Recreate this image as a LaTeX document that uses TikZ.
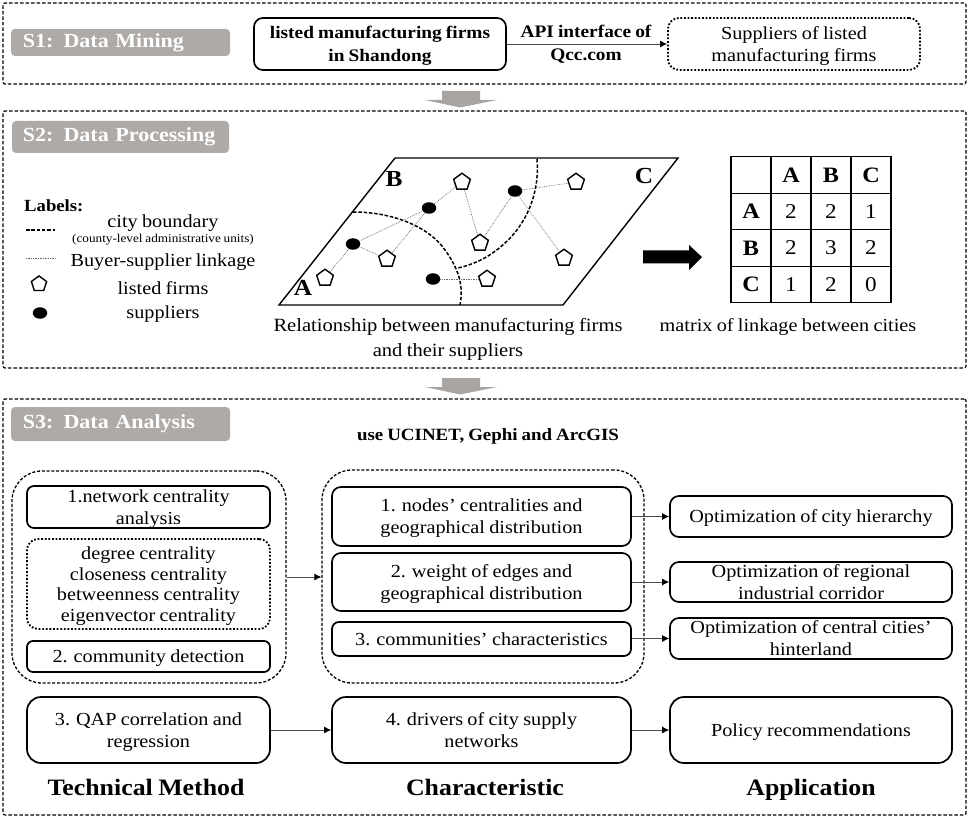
\documentclass[tikz,border=0pt]{standalone}
\usepackage{fontspec}
\setmainfont{Liberation Serif}[FakeStretch=1.1,WordSpace=0.85]
\usetikzlibrary{arrows.meta,shapes.geometric}
\definecolor{lab}{HTML}{AEAAA7}
\definecolor{garrow}{HTML}{A9A5A3}
\newcommand{\fs}[2]{\fontsize{#1}{#2}\selectfont}
% style, name, x1, y1, x2, y2, text
\newcommand{\rb}[7]{%
  \pgfmathsetmacro{\cxx}{(#3+#5)/2}\pgfmathsetmacro{\cyy}{(#4+#6)/2}%
  \pgfmathsetmacro{\www}{#5-#3}\pgfmathsetmacro{\hhh}{#6-#4}%
  \node[#1,minimum width=\www pt,minimum height=\hhh pt] (#2) at (\cxx,\cyy) {#7};}
\tikzset{
  frame/.style={draw=black,line width=1.2pt,dash pattern=on 3.5pt off 2pt,rounded corners=2pt,inner sep=0},
  lab/.style={fill=lab,rounded corners=4pt,inner sep=0,text=white,font=\fs{20}{24}\bfseries,align=left,text width=195pt},
  solidbox/.style={draw=black,line width=1.7pt,rounded corners=9pt,inner sep=0,align=center,font=\fs{18.4}{22},text depth=-1pt},
  dotbox/.style={draw=black,line width=1.8pt,dash pattern=on 1.8pt off 1.8pt,rounded corners=11pt,inner sep=0,align=center,font=\fs{18.4}{20.5},text depth=-1pt},
  groupbox/.style={draw=black,line width=1.3pt,dash pattern=on 3pt off 1.8pt,rounded corners=30pt,inner sep=0},
  txt/.style={inner sep=0,align=center,font=\fs{18.4}{22}},
  btxt/.style={inner sep=0,align=center,font=\fs{17.6}{23}\bfseries},
  head/.style={inner sep=0,font=\fs{23.5}{28}\bfseries,text height=17pt,text depth=5pt},
  flow/.style={draw=black!70,line width=0.9pt,-{Latex[length=7pt,width=7pt,black]}},
  firm/.style={regular polygon,regular polygon sides=5,draw=black,line width=1.4pt,fill=white,minimum size=17.5pt,inner sep=0},
  supp/.style={ellipse,fill=black,minimum width=14.5pt,minimum height=11.5pt,inner sep=0},
  linkage/.style={draw=black!60,line width=0.7pt,densely dotted},
  bound/.style={draw=black,line width=1.5pt,dash pattern=on 3.5pt off 1.8pt},
  cell/.style={draw=black,line width=1.2pt,minimum width=40pt,minimum height=36.7pt,inner sep=0,font=\fs{21}{24}},
  bcell/.style={cell,font=\fs{22}{24}\bfseries},
  bigarrow/.style={fill=garrow,draw=none},
}
\begin{document}
\begin{tikzpicture}[x=1pt,y=-1pt]
\useasboundingbox (0,0) rectangle (969,818);
\fill[white] (0,0) rectangle (969,818);
% frames
\rb{frame}{f1}{3}{3}{966}{84}{}
\rb{frame}{f2}{3}{111}{966}{368}{}
\rb{frame}{f3}{3}{399}{966}{815}{}
% stage labels
\rb{lab}{s1lab}{11}{29}{230}{56}{\mbox{S1: Data Mining}}
\rb{lab}{s2lab}{12}{121}{229}{153}{\mbox{S2: Data Processing}}
\rb{lab}{s3lab}{11}{407}{230}{441}{\mbox{S3: Data Analysis}}
% S1
\rb{solidbox,font=\fs{17.6}{23}\bfseries}{listed}{254}{18}{506}{70}{listed manufacturing firms\\in Shandong}
\rb{dotbox,font=\fs{18.4}{22}}{supls}{668}{18}{920}{70}{Suppliers of listed\\manufacturing firms}
\draw[flow] (listed.east) -- (supls.west);
\node[btxt] (api) at (586,44.5) {API interface of\\Qcc.com};
% gray arrows
\fill[bigarrow] (442,91) -- (480,91) -- (480,100) -- (497,100) -- (460,107.5) -- (425,100) -- (442,100) -- cycle;
\fill[bigarrow] (442,378) -- (480,378) -- (480,387) -- (497,387) -- (460,394.5) -- (425,387) -- (442,387) -- cycle;
% legend
\node[inner sep=0,font=\fs{17}{20}\bfseries,anchor=west] (labels) at (24,205.5) {Labels:};
\node[txt] (lb1) at (163,223) {city boundary};
\node[inner sep=0,font=\fs{12}{14}] (lb2) at (163,240) {(county-level administrative units)};
\node[txt] (lb3) at (163,262) {Buyer-supplier linkage};
\node[txt] (lb4) at (163,288) {listed firms};
\node[txt] (lb5) at (163,314) {suppliers};
\coordinate (d1) at (26,230); \coordinate (d2) at (55,230);
\draw[bound] (d1) -- (d2);
\coordinate (e1) at (26,258); \coordinate (e2) at (55,258);
\draw[linkage] (e1) -- (e2);
\node[firm,minimum size=16pt] (lf) at (39,284) {};
\node[supp] (ls) at (40,313) {};
% parallelogram
\draw[line width=1.4pt,line join=miter] (279,305) -- (563,305) -- (678,158) -- (395,158) -- cycle;
\node[inner sep=0,font=\fs{23}{26}\bfseries] (cA) at (303,288) {A};
\node[inner sep=0,font=\fs{23}{26}\bfseries] (cB) at (394,179) {B};
\node[inner sep=0,font=\fs{23}{26}\bfseries] (cC) at (644,176) {C};
\draw[bound] (353,212) .. controls (395,212) and (430,228) .. (445,250) .. controls (458,268) and (464,285) .. (460,305);
\draw[bound] (537,159) .. controls (540,195) and (525,225) .. (505,243) .. controls (490,257) and (475,264) .. (458,268);
% firms and suppliers
\node[firm] (p1) at (325,278) {};
\node[firm] (p2) at (387,259) {};
\node[firm] (p3) at (462,182) {};
\node[firm] (p4) at (480,243) {};
\node[firm] (p5) at (576,182) {};
\node[firm] (p6) at (564,258) {};
\node[firm] (p7) at (487,279) {};
\node[supp] (q1) at (353,244) {};
\node[supp] (q2) at (429,208) {};
\node[supp] (q3) at (515,191) {};
\node[supp] (q4) at (433,279) {};
\draw[linkage] (q1) -- (p1);
\draw[linkage] (q1) -- (p2);
\draw[linkage] (q1) -- (q2);
\draw[linkage] (q2) -- (p2);
\draw[linkage] (q2) -- (p3);
\draw[linkage] (p3) -- (p4);
\draw[linkage] (p4) -- (q3);
\draw[linkage] (q3) -- (p5);
\draw[linkage] (q3) -- (p6);
\draw[linkage] (q4) -- (p7);
\node[txt,font=\fs{18.7}{25}] (cap1) at (448,339) {Relationship between manufacturing firms\\and their suppliers};
% black arrow
\coordinate (ba1) at (643,257); \coordinate (ba2) at (702,257);
\fill[black] (643,250.5) -- (689,250.5) -- (689,245) -- (702,257) -- (689,270) -- (689,263.5) -- (643,263.5) -- cycle;
% matrix
\node[cell] (m00) at (751,175) {};
\node[bcell] (m01) at (791,175) {A};
\node[bcell] (m02) at (831,175) {B};
\node[bcell] (m03) at (871,175) {C};
\node[bcell] (m10) at (751,211.5) {A};
\node[cell] (m11) at (791,211.5) {2};
\node[cell] (m12) at (831,211.5) {2};
\node[cell] (m13) at (871,211.5) {1};
\node[bcell] (m20) at (751,248) {B};
\node[cell] (m21) at (791,248) {2};
\node[cell] (m22) at (831,248) {3};
\node[cell] (m23) at (871,248) {2};
\node[bcell] (m30) at (751,284.5) {C};
\node[cell] (m31) at (791,284.5) {1};
\node[cell] (m32) at (831,284.5) {2};
\node[cell] (m33) at (871,284.5) {0};
\node[txt] (cap2) at (788,327) {matrix of linkage between cities};
% S3
\node[btxt,font=\fs{17.2}{20}\bfseries] (use) at (488,436) {use UCINET, Gephi and ArcGIS};
\rb{groupbox}{gl}{12}{471}{286}{683}{}
\rb{groupbox}{gm}{322}{470}{644}{683}{}
\rb{solidbox,rounded corners=7pt}{t1}{27}{486}{270}{528}{1.network centrality\\analysis}
\rb{dotbox}{t2}{27}{539}{270}{629}{degree centrality\\closeness centrality\\betweenness centrality\\eigenvector centrality}
\rb{solidbox,rounded corners=6pt}{t3}{27}{641}{270}{672}{2. community detection}
\rb{solidbox}{c1}{332}{487}{631}{546}{1. nodes’ centralities and\\geographical distribution}
\rb{solidbox}{c2}{332}{553}{631}{611}{2. weight of edges and\\geographical distribution}
\rb{solidbox,rounded corners=7pt}{c3}{332}{622}{631}{656}{3. communities’ characteristics}
\rb{solidbox}{a1}{670}{496}{952}{537}{Optimization of city hierarchy}
\rb{solidbox}{a2}{670}{562}{952}{602}{Optimization of regional\\industrial corridor}
\rb{solidbox}{a3}{670}{618}{952}{659}{Optimization of central cities’\\hinterland}
\rb{solidbox,rounded corners=14pt}{t4}{27}{697}{270}{763}{3. QAP correlation and\\regression}
\rb{solidbox,rounded corners=14pt}{c4}{332}{697}{631}{763}{4. drivers of city supply\\networks}
\rb{solidbox,rounded corners=14pt}{a4}{670}{697}{952}{763}{Policy recommendations}
\draw[flow] (gl.east |- 0,577) -- (gm.west |- 0,577);
\draw[flow] (c1.east |- a1.west) -- (a1.west);
\draw[flow] (c2.east |- a2.west) -- (a2.west);
\draw[flow] (c3.east |- a3.west) -- (a3.west);
\draw[flow] (t4.east) -- (c4.west);
\draw[flow] (c4.east) -- (a4.west);
\node[head] (h1) at (146,789.5) {Technical Method};
\node[head] (h2) at (485,789.5) {Characteristic};
\node[head] (h3) at (811,789.5) {Application};
\end{tikzpicture}
\end{document}
